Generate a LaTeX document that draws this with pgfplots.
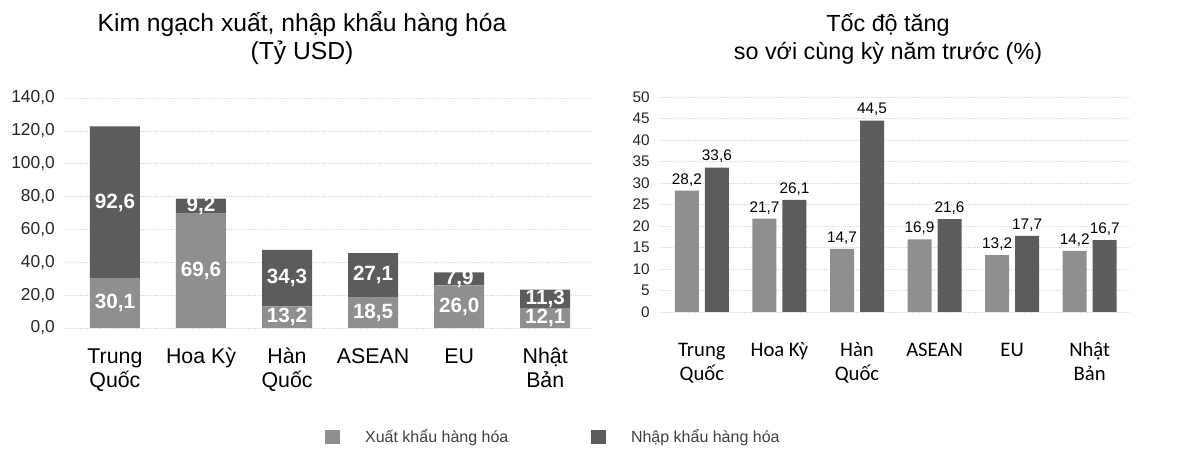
\documentclass[border=0pt]{standalone}
\usepackage{pgfplots}
\pgfplotsset{compat=1.18}
\usepackage{pgfplotstable}
\usepackage{fontspec}
\setmainfont{Liberation Sans}
\newfontfamily\carlito{Carlito}

\definecolor{xuat}{gray}{0.56}
\definecolor{nhap}{gray}{0.36}

% Kim ngach (ty USD): xuat khau, nhap khau
\pgfplotstableread{
x exp imp
0 30.1 92.6
1 69.6 9.2
2 13.2 34.3
3 18.5 27.1
4 26.0 7.9
5 12.1 11.3
}\kimngach

% Toc do tang (%)
\pgfplotstableread{
x exp imp
0 28.2 33.6
1 21.7 26.1
2 14.7 44.5
3 16.9 21.6
4 13.2 17.7
5 14.2 16.7
}\tocdo

\pgfplotsset{
  sqlegend/.style={legend image code/.code={\fill[##1] (0pt,-5.5pt) rectangle (11pt,5.5pt);}},
  leftgeom/.style={at={(48.75pt,93.75pt)}, anchor=south west, scale only axis,
    width=393.75pt, height=172.5pt, xmin=-0.58, xmax=5.52, ymin=0, ymax=140},
  countries/.style={xticklabels={{\strut Trung\\Quốc},{\strut Hoa Kỳ},{\strut Hàn\\Quốc},
    {\strut ASEAN},{\strut EU},{\strut Nhật\\Bản}}},
}

\begin{document}
\begin{tikzpicture}[x=0.75pt,y=0.75pt]
\useasboundingbox (0,0) rectangle (1196,453);

\node[font=\fontsize{18.5}{21}\selectfont, anchor=base] at (302,421) {Kim ngạch xuất, nhập khẩu hàng hóa};
\node[font=\fontsize{18.5}{21}\selectfont, anchor=base] at (302,393) {(Tỷ USD)};
\node[font=\fontsize{17.5}{20}\selectfont, anchor=base] at (888,421) {Tốc độ tăng};
\node[font=\fontsize{17.5}{20}\selectfont, anchor=base] at (888,393) {so với cùng kỳ năm trước (\%)};

\begin{axis}[
  leftgeom,
  ybar stacked, bar width=37.5pt,
  axis line style={draw=none}, tick style={draw=none},
  ymajorgrids, grid style={densely dotted, gray!30},
  ytick={0,20,...,140}, xtick=data, countries,
  xticklabel style={font=\fontsize{16}{18}\selectfont, align=center, anchor=north, inner sep=0pt, yshift=-13.6pt},
  yticklabel style={font=\fontsize{13}{14}\selectfont, inner sep=0pt, xshift=-7.5pt, text=black!85},
  /pgf/number format/.cd, use comma, fixed, fixed zerofill, precision=1, assume math mode=true,
  /pgfplots/.cd,
  legend columns=2,
  legend style={at={(0.495,-0.474)}, anchor=west, draw=none, fill=none, inner sep=0pt,
    font=\fontsize{12}{14}\selectfont, text=black!75,
    /tikz/every odd column/.append style={column sep=17pt},
    /tikz/every even column/.append style={column sep=60pt}},
]
\addplot[fill=xuat, draw=none, sqlegend] table[x=x, y=exp] {\kimngach};
\addlegendentry{Xuất khẩu hàng hóa}
\addplot[fill=nhap, draw=none, sqlegend] table[x=x, y=imp] {\kimngach};
\addlegendentry{Nhập khẩu hàng hóa}
\end{axis}

% white value labels centred in each stacked segment
\begin{axis}[
  leftgeom, hide axis,
  /pgf/number format/.cd, use comma, fixed, fixed zerofill, precision=1, assume math mode=true,
  /pgfplots/.cd,
  nodes near coords, point meta=explicit,
  nodes near coords style={anchor=center, text=white, font=\bfseries\fontsize{15.5}{16}\selectfont},
]
\addplot[draw=none, mark=none] table[x=x, y expr=\thisrow{exp}/2, meta=exp] {\kimngach};
\addplot[draw=none, mark=none] table[x=x, y expr=\thisrow{exp}+\thisrow{imp}/2, meta=imp] {\kimngach};
\end{axis}

\begin{axis}[
  at={(495pt,105.75pt)}, anchor=south west, scale only axis,
  width=352.5pt, height=161.25pt,
  ybar=4.5pt, bar width=18pt,
  xmin=-0.54, xmax=5.52, ymin=0, ymax=50,
  axis line style={draw=none}, tick style={draw=none},
  ymajorgrids, grid style={densely dotted, gray!30},
  ytick={0,5,...,50}, xtick=data, countries,
  xticklabel style={font=\carlito\fontsize{15.5}{18}\selectfont, align=center, anchor=north, inner sep=0pt, yshift=-16.4pt},
  yticklabel style={font=\fontsize{11.5}{13}\selectfont, inner sep=0pt, xshift=-7.5pt, text=black!85},
  /pgf/number format/.cd, use comma, fixed, precision=1, assume math mode=true,
  /pgfplots/.cd,
  nodes near coords,
  nodes near coords style={font=\fontsize{11.5}{13}\selectfont, text=black},
]
\addplot[fill=xuat, draw=none] table[x=x, y=exp] {\tocdo};
\addplot[fill=nhap, draw=none] table[x=x, y=imp] {\tocdo};
\end{axis}
\end{tikzpicture}
\end{document}
